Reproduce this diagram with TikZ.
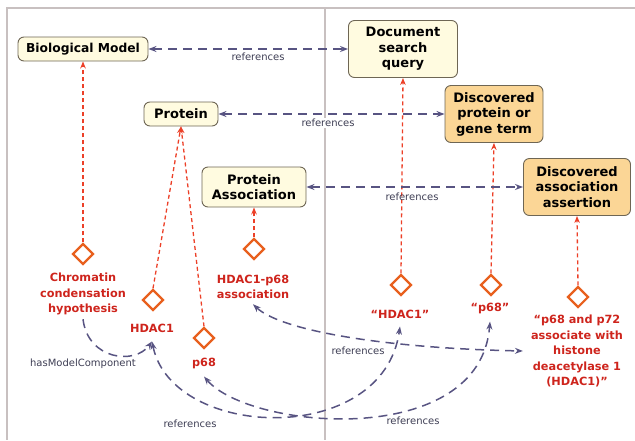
\documentclass[tikz,border=0pt]{standalone}
\usepackage{fontspec}
\setmainfont{DejaVu Sans}
\usetikzlibrary{arrows.meta,shapes.geometric}
\definecolor{cream}{RGB}{255,251,224}
\definecolor{orangefill}{RGB}{251,214,150}
\definecolor{boxline}{RGB}{110,102,84}
\definecolor{redtext}{RGB}{206,36,28}
\definecolor{redline}{RGB}{236,64,40}
\definecolor{diaor}{RGB}{232,96,30}
\definecolor{purp}{RGB}{88,84,130}
\definecolor{lblc}{RGB}{62,62,84}
\definecolor{framec}{RGB}{200,192,192}
\begin{document}
\begin{tikzpicture}[x=1pt,y=-1pt,
  box/.style={draw=boxline,line width=0.9pt,rounded corners=6pt,fill=cream,align=center,
    font=\bfseries\fontsize{13}{15.5}\selectfont,inner sep=2pt},
  obox/.style={box,fill=orangefill},
  dia/.style={diamond,draw=diaor,line width=2.2pt,minimum width=21pt,minimum height=21pt,inner sep=0pt,aspect=1},
  redlbl/.style={text=redtext,font=\bfseries\fontsize{11.3}{15.5}\selectfont,align=center,inner sep=2pt},
  redarr/.style={draw=redline,line width=1.3pt,dash pattern=on 4pt off 3pt,-{Stealth[length=7pt,width=5.5pt]}},
  refarr/.style={draw=purp,line width=1.5pt,dash pattern=on 9pt off 6pt,
    {Stealth[length=8pt,width=6pt]}-{Stealth[length=8pt,width=6pt]}},
  onearr/.style={draw=purp,line width=1.5pt,dash pattern=on 9pt off 6pt,-{Stealth[length=8pt,width=6pt]}},
  reflbl/.style={font=\fontsize{10}{12}\selectfont,text=lblc,inner sep=1pt}]
\useasboundingbox (0,0) rectangle (635,440);
% frame and divider
\draw[framec,line width=2pt] (635,8) -- (7,8) -- (7,440);
\draw[framec,line width=1.5pt] (325,8) -- (325,440);

% boxes
\node[box,minimum width=130pt,minimum height=24pt,font=\bfseries\fontsize{12.3}{15.5}\selectfont] (bm) at (83,49) {Biological Model};
\node[box,minimum width=74pt,minimum height=24pt] (prot) at (181,114) {Protein};
\node[box,minimum width=104pt,minimum height=40pt] (pa) at (254,187) {Protein\\Association};
\node[box,minimum width=109pt,minimum height=57pt] (dsq) at (403,49) {Document\\search\\query};
\node[obox,minimum width=98pt,minimum height=57pt] (dpg) at (494,114) {Discovered\\protein or\\gene term};
\node[obox,minimum width=107pt,minimum height=57pt] (daa) at (577,187) {Discovered\\association\\assertion};

% diamonds
\node[dia] (d1) at (83,254) {};
\node[dia] (d2) at (153,300) {};
\node[dia] (d3) at (204,338) {};
\node[dia] (d4) at (254,249) {};
\node[dia] (d5) at (401,285) {};
\node[dia] (d6) at (491,285) {};
\node[dia] (d7) at (578,297) {};

% red labels
\node[redlbl] (t1) at (83,294) {Chromatin\\condensation\\hypothesis};
\node[redlbl] (t2) at (152,328) {HDAC1};
\node[redlbl] (t3) at (204,363) {p68};
\node[redlbl] (t4) at (253,287) {HDAC1-p68\\association};
\node[redlbl] (t5) at (400,314) {“HDAC1”};
\node[redlbl] (t6) at (490,308) {“p68”};
\node[redlbl] (t7) at (577,351) {“p68 and p72\\associate with\\histone\\deacetylase 1\\(HDAC1)”};

% red connectors
\draw[redarr] (d1.north) -- (bm.south);
\draw[redarr] (d2.north) -- (prot.south);
\draw[redarr] (d3.north) -- (prot.south);
\draw[redarr] (d4.north) -- (pa.south);
\draw[redarr] (d5.north) -- (dsq.south);
\draw[redarr] (d6.north) -- (dpg.south);
\draw[redarr] (d7.north) -- (daa.south);

% horizontal references
\draw[refarr] (bm.east) -- (dsq.west);
\draw[refarr] (prot.east) -- (dpg.west);
\draw[refarr] (pa.east) -- (daa.west);
\node[reflbl] (r1) at (258,57) {references};
\node[reflbl,fill=white] (r2) at (328,123) {references};
\node[reflbl] (r3) at (412,197) {references};

% curved connectors
\draw[onearr] ([yshift=-2pt]t1.south) .. controls (88,360) and (135,365) .. ([yshift=-7pt]t2.south);
\node[reflbl] (hm) at (83,364) {hasModelComponent};

\draw[refarr] ([yshift=-7pt]t2.south) .. controls (172,440) and (383,448) .. ([yshift=-6pt]t5.south);
\node[reflbl] (r4) at (190,424) {references};

\draw[refarr] ([yshift=-6pt]t3.south) .. controls (250,430) and (480,450) .. ([yshift=-6pt]t6.south);
\node[reflbl] (r5) at (413,421) {references};

\draw[refarr] ([yshift=-3pt]t4.south) .. controls (280,330) and (380,348) .. ([xshift=-6pt]t7.west);
\node[reflbl] (r6) at (358,351) {references};
\end{tikzpicture}
\end{document}
